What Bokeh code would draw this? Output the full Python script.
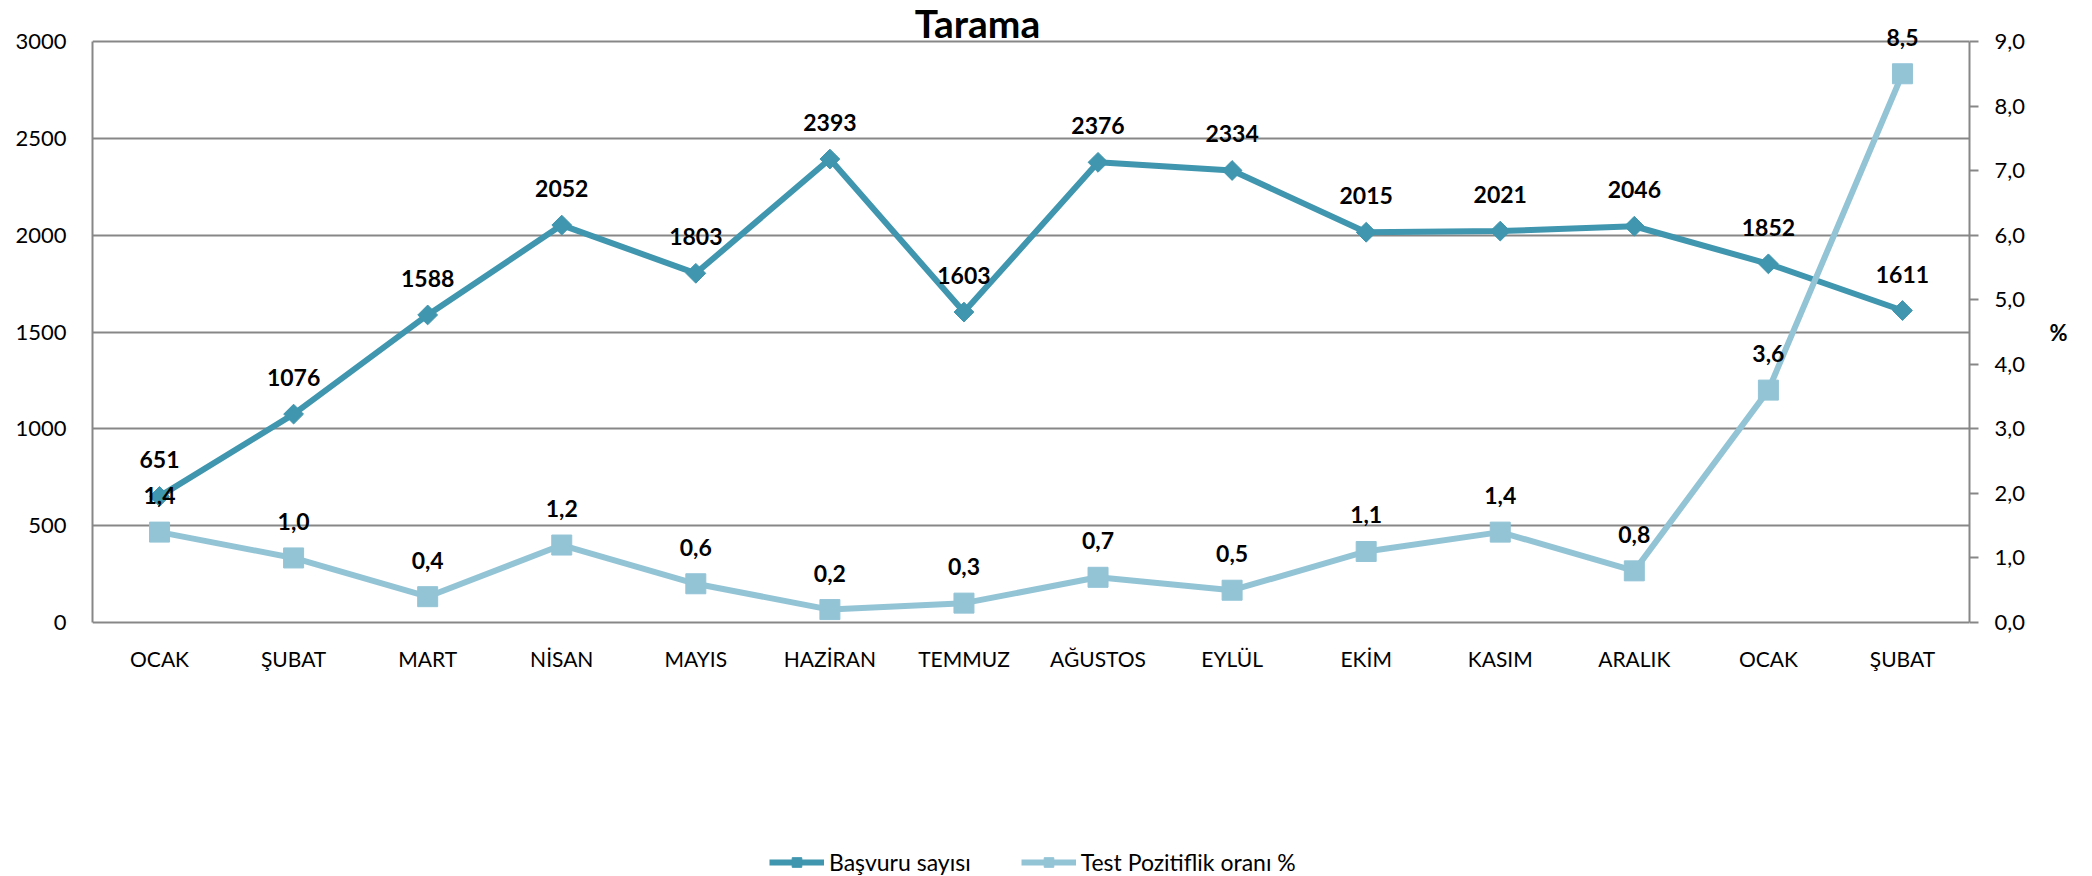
import math
from bokeh.plotting import figure
from bokeh.models import (Range1d, LinearAxis, FixedTicker, ColumnDataSource,
                          LabelSet, Label, Legend, LegendItem)
from bokeh.core.properties import value
from bokeh.embed import file_html
from bokeh.resources import INLINE

# ---- data ----
months = ["OCAK", "ŞUBAT", "MART", "NİSAN", "MAYIS", "HAZİRAN", "TEMMUZ",
          "AĞUSTOS", "EYLÜL", "EKİM", "KASIM", "ARALIK", "OCAK", "ŞUBAT"]
basvuru = [651, 1076, 1588, 2052, 1803, 2393, 1603, 2376, 2334, 2015, 2021, 2046, 1852, 1611]
pozitiflik = [1.4, 1.0, 0.4, 1.2, 0.6, 0.2, 0.3, 0.7, 0.5, 1.1, 1.4, 0.8, 3.6, 8.5]
left_ticks = [0, 500, 1000, 1500, 2000, 2500, 3000]
right_ticks = [0, 1, 2, 3, 4, 5, 6, 7, 8, 9]
title_text = "Tarama"
right_title = "%"
series_names = ["Başvuru sayısı", "Test Pozitiflik oranı %"]

FONT = "Lato"
DARK = "#3F96AE"
LIGHT = "#93C4D6"
GRAY = "#878787"

# ---- layout (pixels) ----
W, H = 2092, 876
LEFT, RIGHT = 92, 1969          # plot area left / right edge
TOP, BOTTOM = 41, 622           # pixel rows of the axis maximum / zero
LMAX, RMAX = left_ticks[-1], right_ticks[-1]


def ext_range(vmax):
    per_px = vmax / (BOTTOM - TOP)
    return Range1d(-(H - BOTTOM) * per_px, vmax + TOP * per_px)


xs = list(range(len(months)))
src = ColumnDataSource(dict(
    x=xs, b=basvuru, p=pozitiflik, zero=[0] * len(xs), m=months,
    bl=[str(v) for v in basvuru],
    pl=[f"{v:.1f}".replace(".", ",") for v in pozitiflik],
))

p = figure(width=W, height=H, output_backend="svg", toolbar_location=None,
           x_range=Range1d(-0.5, len(months) - 0.5), y_range=ext_range(LMAX),
           min_border_left=LEFT, min_border_right=W - RIGHT, min_border_top=0,
           min_border_bottom=0, x_axis_location=None)
p.extra_y_ranges = {"pct": ext_range(RMAX)}
p.outline_line_color = None
p.background_fill_color = "white"
p.border_fill_color = "white"


def plain(ax):
    ax.major_tick_out = 0
    ax.major_tick_in = 0
    ax.minor_tick_out = 0
    ax.minor_tick_in = 0
    ax.major_label_text_font = FONT
    ax.major_label_text_font_size = "22px"
    ax.major_label_text_color = "black"


# left axis
ya = p.yaxis[0]
plain(ya)
ya.ticker = FixedTicker(ticks=left_ticks)
ya.bounds = (0, LMAX)
ya.axis_line_color = GRAY
ya.axis_line_width = 2
ya.major_label_standoff = 26

# right axis
ra = LinearAxis(y_range_name="pct", ticker=FixedTicker(ticks=right_ticks))
plain(ra)
ra.bounds = (0, RMAX)
ra.major_label_overrides = {t: f"{t:.1f}".replace(".", ",") for t in right_ticks}
ra.major_tick_out = 9
ra.major_tick_line_color = GRAY
ra.major_tick_line_width = 2
ra.axis_line_color = GRAY
ra.axis_line_width = 2
ra.major_label_standoff = 16
p.add_layout(ra, "right")

# right axis title "%" centred on the value span
mid = RMAX / 2
ra2 = LinearAxis(y_range_name="pct", ticker=FixedTicker(ticks=[mid]))
plain(ra2)
ra2.axis_line_color = None
ra2.major_label_overrides = {mid: right_title}
ra2.major_label_text_font_style = "bold"
ra2.major_label_standoff = 21
p.add_layout(ra2, "right")

p.xgrid.grid_line_color = None
p.ygrid.ticker = FixedTicker(ticks=left_ticks)
p.ygrid.grid_line_color = GRAY
p.ygrid.grid_line_width = 2

# series
l1 = p.line("x", "b", source=src, line_color=DARK, line_width=6)
m1 = p.scatter("x", "b", source=src, marker="square", angle=math.pi / 4, size=14,
               fill_color=DARK, line_color=DARK)
l2 = p.line("x", "p", source=src, line_color=LIGHT, line_width=6, y_range_name="pct")
m2 = p.scatter("x", "p", source=src, marker="square", size=20,
               fill_color=LIGHT, line_color=LIGHT, y_range_name="pct")

# category labels (x axis)
p.add_layout(LabelSet(x="x", y="zero", text="m", source=src, y_offset=-23,
                      text_align="center", text_baseline="top",
                      text_font=value(FONT), text_font_size="21px",
                      text_color="black"))

# data labels
for col, yname in (("bl", "b"), ("pl", "p")):
    kw = dict(y_range_name="pct") if yname == "p" else {}
    p.add_layout(LabelSet(x="x", y=yname, text=col, source=src, y_offset=28,
                          text_align="center", text_baseline="alphabetic",
                          text_font=value(FONT), text_font_style="bold",
                          text_font_size="23px", text_color="black", **kw))

# title
p.add_layout(Label(x=977 - LEFT, y=H - 22, x_units="screen", y_units="screen",
                   text=title_text, text_align="center", text_baseline="alphabetic",
                   text_font=FONT, text_font_style="bold", text_font_size="39px",
                   text_color="black"))

# legend
legend = Legend(items=[LegendItem(label=series_names[0], renderers=[l1, m1]),
                       LegendItem(label=series_names[1], renderers=[l2, m2])],
                orientation="horizontal", location=(769 - LEFT, 0),
                padding=0, margin=0, spacing=50, label_standoff=5,
                glyph_width=55, glyph_height=24,
                border_line_color=None, background_fill_alpha=0,
                label_text_font=FONT, label_text_font_size="23px",
                label_text_color="black")
p.add_layout(legend, "center")

open("out.html", "w").write(file_html(p, INLINE))
